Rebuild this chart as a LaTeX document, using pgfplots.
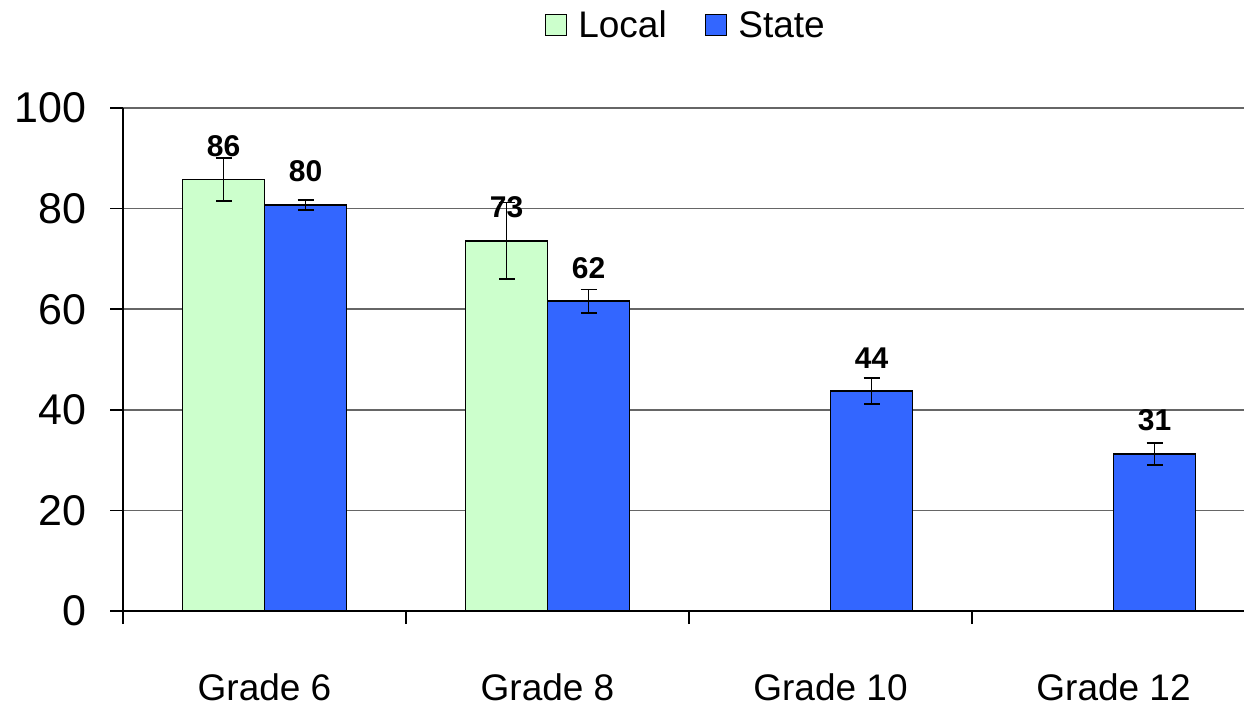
\documentclass[border=0pt]{standalone}
\usepackage{pgfplots}
\usepackage{pgfplotstable}
\pgfplotsset{compat=1.18}
\usepackage{fontspec}
\setmainfont{Liberation Sans}
\definecolor{localc}{RGB}{204,255,204}
\definecolor{statec}{RGB}{51,102,255}
\pgfplotstableread{
x y err label
0 85.8 4.3 86
1 73.6 7.6 73
}\localdata
\pgfplotstableread{
x y err label
0 80.7 1.0 80
1 61.6 2.3 62
2 43.7 2.55 44
3 31.2 2.2 31
}\statedata
\begin{document}
\begin{tikzpicture}
\useasboundingbox (0,0) rectangle (1244pt,707pt);
\begin{axis}[
  at={(123pt,96pt)}, anchor=south west,
  scale only axis,
  width=1121pt, height=503pt,
  xmin=-0.5, xmax=3.461,
  ymin=0, ymax=100,
  ytick={0,20,40,60,80,100},
  axis x line*=bottom, axis y line*=left,
  axis line style={black, line width=1.6pt},
  ymajorgrids,
  grid style={black!60, line width=1.6pt},
  xtick={-0.5,0.5,1.5,2.5},
  xticklabels={},
  extra x ticks={0,1,2,3},
  extra x tick labels={Grade 6,Grade 8,Grade 10,Grade 12},
  extra x tick style={major tick length=0pt, tick style={draw=none}},
  tick style={black, line width=1.6pt},
  tick align=outside,
  major tick length=13pt,
  /pgf/number format/assume math mode=true,
  yticklabel style={font=\fontsize{43}{50}\selectfont, xshift=-20pt},
  xticklabel style={font=\fontsize{37}{44}\selectfont, inner sep=0pt, yshift=-62pt},
  ybar=0pt,
  bar width=82pt,
  nodes near coords,
  point meta=explicit symbolic,
  every node near coord/.append style={font=\bfseries\fontsize{30}{36}\selectfont, anchor=south, inner sep=0pt, yshift=22pt},
  legend style={at={(0.502,1.165)}, anchor=center, draw=none, legend columns=2,
    font=\fontsize{37}{44}\selectfont,
    /tikz/every even column/.append style={column sep=36pt}},
  legend image code/.code={\draw[#1, line width=1.6pt] (0pt,-10.5pt) rectangle (21pt,10.5pt); \path (30pt,0pt);},
  error bars/y dir=both,
  error bars/y explicit,
  error bars/error bar style={black, line width=1.8pt},
  error bars/error mark options={rotate=90, mark size=8pt, black, line width=1.8pt},
]
\addplot[fill=localc, draw=black, line width=1.6pt] table[x=x, y=y, y error=err, meta=label] {\localdata};
\addlegendentry{Local}
\addplot[fill=statec, draw=black, line width=1.6pt] table[x=x, y=y, y error=err, meta=label] {\statedata};
\addlegendentry{State}
\end{axis}
\end{tikzpicture}
\end{document}
